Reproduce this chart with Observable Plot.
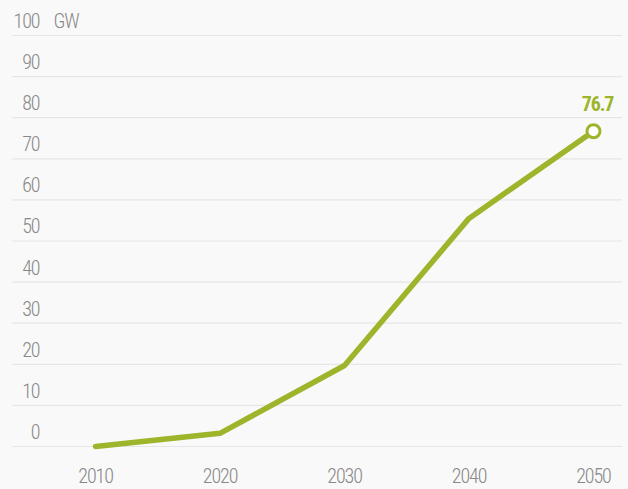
<!DOCTYPE html>
<html>
<head>
<meta charset="utf-8">
<script src="https://cdn.jsdelivr.net/npm/d3@7"></script>
<script src="https://cdn.jsdelivr.net/npm/@observablehq/plot@0.6"></script>
<style>
  html, body { margin: 0; padding: 0; background: #f9f9f9; }
  #chart svg { display: block; }
  #chart svg text { letter-spacing: -1.1px; }
</style>
</head>
<body>
<div id="chart"></div>
<script>
const years = [2010, 2020, 2030, 2040, 2050];
const capacityGW = [0, 3.2, 19.7, 55.5, 76.7];
const yTicks = [0, 10, 20, 30, 40, 50, 60, 70, 80, 90, 100];
const unitLabel = "GW";
const endLabel = "76.7";

const data = years.map((year, i) => ({year, value: capacityGW[i]}));
const last = data[data.length - 1];

const green = "#9db52a";
const font = "'Roboto Condensed', Roboto, sans-serif";

const chart = Plot.plot({
  width: 628,
  height: 489,
  marginLeft: 12,
  marginRight: 6,
  marginTop: 35,
  marginBottom: 43,
  style: {background: "#f9f9f9", fontFamily: font, fontSize: "20px", color: "#888"},
  x: {domain: [2003.33, 2052.33], axis: null},
  y: {domain: [0, 100], axis: null},
  marks: [
    Plot.ruleY(yTicks, {stroke: "#e6e6e6", strokeWidth: 1.2}),
    Plot.axisY(yTicks, {anchor: "left", tickSize: 0, tickPadding: 0, dx: 27, dy: -14, textAnchor: "end", fill: "#888", fontSize: 20, fontWeight: 300, label: null}),
    Plot.text([100], {y: d => d, frameAnchor: "left", text: () => unitLabel, dx: 41, dy: -14, textAnchor: "start", fill: "#888", fontSize: 20, fontWeight: 300}),
    Plot.axisX(years, {anchor: "bottom", tickSize: 0, tickPadding: 22, tickFormat: d => String(d), fill: "#888", fontSize: 20, fontWeight: 300, label: null}),
    Plot.line(data, {x: "year", y: "value", stroke: green, strokeWidth: 5.5, strokeLinecap: "round", strokeLinejoin: "round"}),
    Plot.dot([last], {x: "year", y: "value", r: 6.5, fill: "white", stroke: green, strokeWidth: 3}),
    Plot.text([last], {x: "year", y: "value", text: () => endLabel, dx: 4, dy: -27, fill: green, fontWeight: "bold", fontSize: 20})
  ]
});
document.getElementById("chart").appendChild(chart);
</script>
</body>
</html>
